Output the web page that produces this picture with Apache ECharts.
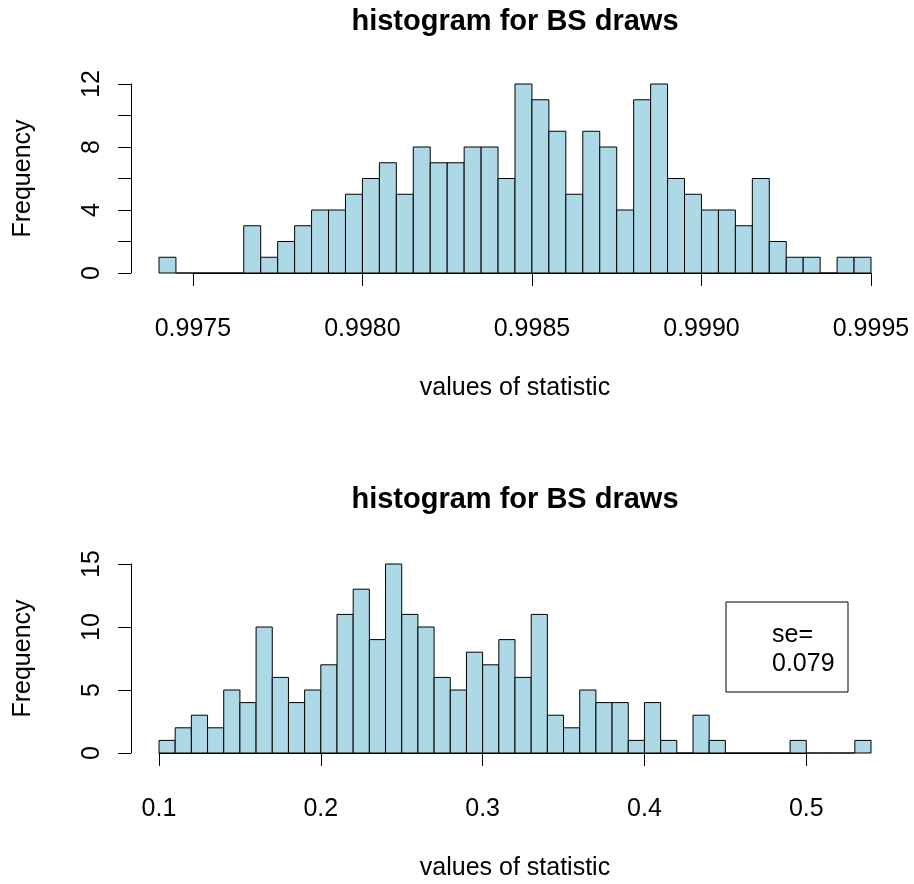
<!DOCTYPE html>
<html><head><meta charset="utf-8">
<script src="https://cdn.jsdelivr.net/npm/echarts@6/dist/echarts.min.js"></script>
<style>html,body{margin:0;padding:0;background:#fff}#c{width:914px;height:884px}</style>
</head><body><div id="c"></div>
<script>
// ---- data ----
const titleText = 'histogram for BS draws';
const xLabel = 'values of statistic';
const yLabel = 'Frequency';

const topBinStart = 0.9974;
const topBinWidth = 0.00005;
const topCounts = [1,0,0,0,0,3,1,2,3,4,4,5,6,7,5,8,7,7,8,8,6,12,11,9,5,9,8,4,11,12,6,5,4,4,3,6,2,1,1,0,1,1];
const topXTicks = [0.9975,0.9980,0.9985,0.9990,0.9995];
const topYTicks = [0,2,4,6,8,10,12];
const topYLabels = [0,4,8,12];

const bottomBinStart = 0.10;
const bottomBinWidth = 0.01;
const bottomCounts = [1,2,3,2,5,4,10,6,4,5,7,11,13,9,15,11,10,6,5,8,7,9,6,11,3,2,5,4,4,1,4,1,0,3,1,0,0,0,0,1,0,0,0,1];
const bottomXTicks = [0.1,0.2,0.3,0.4,0.5];
const bottomYTicks = [0,5,10,15];
const bottomYLabels = [0,5,10,15];

const seLines = ['se=', '0.079'];

// ---- layout / style ----
const FONT = '"Liberation Sans", Arial, Helvetica, sans-serif';
const FS = 25;
const TFS = 29;
const plotLeft = 159, plotRight = 871, plotH = 189;
const panels = [
  { top: 84, counts: topCounts, start: topBinStart, width: topBinWidth, xticks: topXTicks, yticks: topYTicks, ylabels: topYLabels, dec: 4, titleY: 22 },
  { top: 564, counts: bottomCounts, start: bottomBinStart, width: bottomBinWidth, xticks: bottomXTicks, yticks: bottomYTicks, ylabels: bottomYLabels, dec: 1, titleY: 500 }
];

const grid = [], xAxis = [], yAxis = [], series = [], graphic = [];

function renderItem(params, api) {
  const p0 = api.coord([api.value(0), api.value(2)]);
  const p1 = api.coord([api.value(1), 0]);
  return {
    type: 'rect',
    shape: { x: p0[0], y: p0[1], width: p1[0] - p0[0], height: p1[1] - p0[1] },
    style: { fill: '#ADD8E6', stroke: '#000', lineWidth: 1 }
  };
}

panels.forEach((p, i) => {
  const n = p.counts.length;
  const end = p.start + n * p.width;
  const scale = (plotRight - plotLeft) / (end - p.start);
  const data = p.counts.map((c, k) => [p.start + k * p.width, p.start + (k + 1) * p.width, c]);
  const yStep = p.yticks[1] - p.yticks[0];
  const yMax = p.yticks[p.yticks.length - 1];
  const xStep = p.xticks[1] - p.xticks[0];
  const axLeft = plotLeft + (p.xticks[0] - p.start) * scale;
  const axW = (p.xticks[p.xticks.length - 1] - p.xticks[0]) * scale;

  grid.push({ left: plotLeft, top: p.top, width: plotRight - plotLeft, height: plotH, containLabel: false });
  grid.push({ left: axLeft, top: p.top, width: axW, height: plotH, containLabel: false });
  const gd = 2 * i, ga = 2 * i + 1;

  xAxis.push({
    gridIndex: gd, type: 'value', min: p.start, max: end,
    axisLine: { show: false }, axisTick: { show: false }, axisLabel: { show: false }, splitLine: { show: false },
    name: xLabel, nameLocation: 'middle', nameGap: 103,
    nameTextStyle: { fontFamily: FONT, fontSize: FS, color: '#000' }
  });
  xAxis.push({
    gridIndex: ga, type: 'value', min: p.xticks[0], max: p.xticks[p.xticks.length - 1], interval: xStep,
    offset: 9,
    axisLine: { show: true, lineStyle: { color: '#000', width: 1 } },
    axisTick: { show: true, length: 13, lineStyle: { color: '#000', width: 1 } },
    axisLabel: { show: true, margin: 35, fontFamily: FONT, fontSize: FS, color: '#000',
      formatter: v => Number(v).toFixed(p.dec) },
    splitLine: { show: false }
  });
  yAxis.push({
    gridIndex: gd, type: 'value', min: 0, max: yMax, interval: yStep,
    position: 'left', offset: 28,
    axisLine: { show: true, lineStyle: { color: '#000', width: 1 } },
    axisTick: { show: true, length: 13, lineStyle: { color: '#000', width: 1 } },
    axisLabel: { show: true, rotate: 90, margin: 26, fontFamily: FONT, fontSize: FS, color: '#000',
      formatter: v => (p.ylabels.indexOf(Math.round(v)) >= 0 ? String(Math.round(v)) : '') },
    splitLine: { show: false },
    name: yLabel, nameLocation: 'middle', nameGap: 95, nameRotate: 90,
    nameTextStyle: { fontFamily: FONT, fontSize: FS, color: '#000' }
  });
  yAxis.push({ gridIndex: ga, type: 'value', min: 0, max: 1, show: false });

  series.push({
    type: 'custom', xAxisIndex: 2 * i, yAxisIndex: 2 * i,
    renderItem: renderItem, data: data, encode: { x: [0, 1], y: 2 }, clip: false, silent: true
  });

  graphic.push({
    type: 'text', x: (plotLeft + plotRight) / 2, y: p.titleY,
    style: { text: titleText, font: 'bold ' + TFS + 'px ' + FONT, fill: '#000', align: 'center', verticalAlign: 'middle' }
  });
});

graphic.push({ type: 'rect', shape: { x: 726, y: 602, width: 122, height: 90 },
  style: { fill: 'none', stroke: '#000', lineWidth: 1 } });
graphic.push({ type: 'text', x: 772, y: 635, style: { text: seLines[0], font: FS + 'px ' + FONT, fill: '#000', align: 'left', verticalAlign: 'middle' } });
graphic.push({ type: 'text', x: 772, y: 664, style: { text: seLines[1], font: FS + 'px ' + FONT, fill: '#000', align: 'left', verticalAlign: 'middle' } });

const chart = echarts.init(document.getElementById('c'), null, { renderer: 'canvas' });
chart.setOption({ animation: false, backgroundColor: '#fff', grid, xAxis, yAxis, series, graphic });
</script>
</body></html>
